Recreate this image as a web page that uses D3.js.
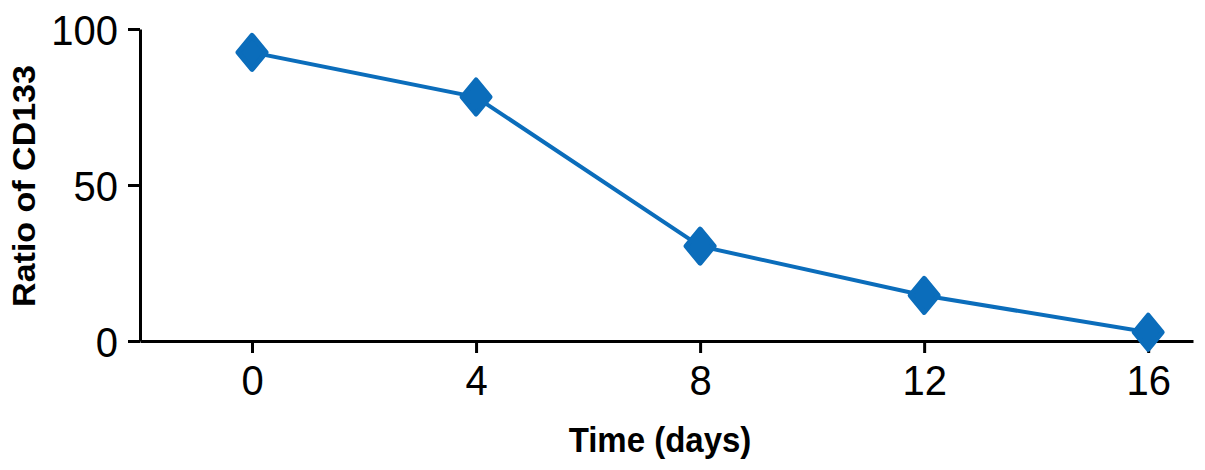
<!DOCTYPE html>
<html>
<head>
<meta charset="utf-8">
<script src="https://cdn.jsdelivr.net/npm/d3@7"></script>
<style>
  html, body { margin: 0; padding: 0; background: #fff; }
  svg { display: block; }
  text { font-family: "Liberation Sans", Arial, Helvetica, sans-serif; fill: #000; }
</style>
</head>
<body>
<svg id="chart" width="1205" height="470"></svg>
<script>
const days = [0, 4, 8, 12, 16];
const ratioCD133 = [92.5, 78.2, 30.4, 14.6, 2.8];
const xTicks = [0, 4, 8, 12, 16];
const yTicks = [0, 50, 100];
const xTitle = "Time (days)";
const yTitle = "Ratio of CD133";

const color = "#0b6dbb";
const svg = d3.select("#chart");

const x = d3.scaleLinear().domain([-2, 16.8]).range([140, 1193]);
const y = d3.scaleLinear().domain([0, 100]).range([341, 29]);

const xAxis = svg.append("g")
  .attr("transform", `translate(0,${y(0)})`)
  .call(d3.axisBottom(x).tickValues(xTicks).tickSize(12).tickSizeOuter(0).tickPadding(8));
const yAxis = svg.append("g")
  .attr("transform", `translate(${x(-2)},0)`)
  .call(d3.axisLeft(y).tickValues(yTicks).tickSize(12).tickSizeOuter(0).tickPadding(10));

[xAxis, yAxis].forEach(g => {
  g.select(".domain").attr("stroke", "#000").attr("stroke-width", 3);
  g.selectAll(".tick line").attr("stroke", "#000").attr("stroke-width", 3);
  g.selectAll(".tick text")
    .attr("fill", "#000")
    .style("font-family", '"Liberation Sans", Arial, sans-serif')
    .style("font-size", "40px");
});
// slight vertical stretch like the reference lettering
xAxis.selectAll(".tick text").attr("y", 0).attr("dy", 0)
  .attr("transform", "translate(0,54) scale(1,1.06)");
yAxis.selectAll(".tick text").attr("x", 0).attr("dy", 0)
  .attr("transform", "translate(-22,15) scale(1,1.06)");

const pts = days.map((d, i) => [x(d), y(ratioCD133[i])]);

svg.append("path")
  .datum(pts)
  .attr("fill", "none")
  .attr("stroke", color)
  .attr("stroke-width", 4)
  .attr("d", d3.line());

const hw = 14, hh = 17;
svg.append("g").selectAll("path")
  .data(pts)
  .join("path")
  .attr("d", d => `M${d[0]},${d[1]-hh}L${d[0]+hw},${d[1]}L${d[0]},${d[1]+hh}L${d[0]-hw},${d[1]}Z`)
  .attr("fill", color)
  .attr("stroke", color)
  .attr("stroke-width", 5)
  .attr("stroke-linejoin", "round");

svg.append("text")
  .attr("transform", "translate(660,452) scale(1,1.07)")
  .attr("text-anchor", "middle")
  .style("font-size", "33px").style("font-weight", "bold")
  .text(xTitle);

svg.append("text")
  .attr("transform", "translate(35,186) rotate(-90) scale(1,0.93)")
  .attr("text-anchor", "middle")
  .style("font-size", "34px").style("font-weight", "bold")
  .text(yTitle);
</script>
</body>
</html>
